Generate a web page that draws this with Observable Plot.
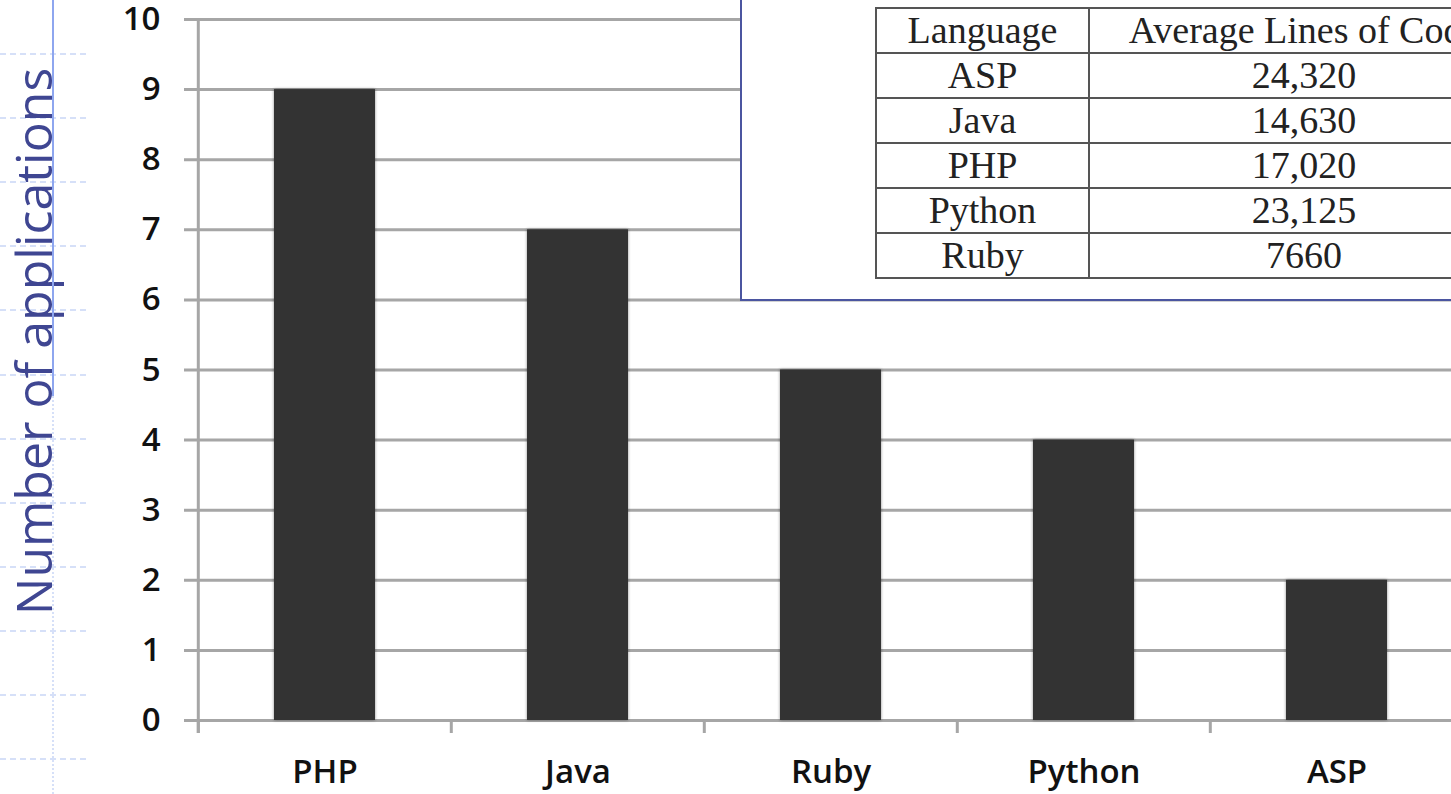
<!DOCTYPE html>
<html>
<head>
<meta charset="utf-8">
<script src="https://cdn.jsdelivr.net/npm/d3@7"></script>
<script src="https://cdn.jsdelivr.net/npm/@observablehq/plot@0.6"></script>
<style>
  html, body { margin: 0; padding: 0; background: #fff; overflow: hidden; }
  #wrap { position: relative; width: 1451px; height: 794px; overflow: hidden; background: #fff; }
  #chart { position: absolute; left: 0; top: 0; z-index: 1; }
  #chart svg { display: block; }
  #chart g[aria-label="bar"] rect { filter: drop-shadow(0 0 1.5px rgba(0,0,0,0.45)); }
  .hdash { position: absolute; left: 0; width: 86px; height: 0; border-top: 2px dashed #d6e0f8; z-index: 0; }
  #vsolid { position: absolute; left: 52px; top: 0; width: 2px; height: 396px; background: #8ea6ef; z-index: 2; }
  #vdot { position: absolute; left: 52px; top: 396px; height: 398px; width: 0; border-left: 2px dotted #d6e0f8; z-index: 0; }
  #inset { position: absolute; left: 740px; top: -3px; width: 800px; height: 304px; background: #fff;
           border: 2px solid #4b55a0; box-sizing: border-box; z-index: 3; }
  #tbl { position: absolute; left: 875px; top: 7px; z-index: 4; border-collapse: collapse; table-layout: fixed; width: 643px;
         font-family: "Liberation Serif", "Times New Roman", serif; font-size: 38px; color: #222; }
  #tbl td { border: 2px solid #555; padding: 0; height: 43px; line-height: 43px; text-align: center; white-space: nowrap; overflow: visible; }
</style>
</head>
<body>
<div id="wrap">
  <div id="chart"></div>
</div>
<script>
// ---- data ----
const languages = ["PHP", "Java", "Ruby", "Python", "ASP"];
const applications = [9, 7, 5, 4, 2];
const yTicks = [0, 1, 2, 3, 4, 5, 6, 7, 8, 9, 10];
const yLabel = "Number of applications";
const tableHeaders = ["Language", "Average Lines of Code"];
const tableLanguages = ["ASP", "Java", "PHP", "Python", "Ruby"];
const tableLines = ["24,320", "14,630", "17,020", "23,125", "7660"];

// ---- chart ----
const data = languages.map((l, i) => ({language: l, count: applications[i]}));
const xRange = [197, 1464];
const step = (xRange[1] - xRange[0]) / languages.length;
const grid = "#a6a6a6";

const chart = Plot.plot({
  width: 1451,
  height: 794,
  marginTop: 19,
  marginBottom: 61,
  marginLeft: 184,
  marginRight: 0,
  style: {fontFamily: "'Open Sans', sans-serif", fontSize: "33px", color: "#111", background: "transparent", overflow: "visible"},
  x: {domain: languages, range: xRange, paddingInner: 0.6, paddingOuter: 0.3, label: null},
  y: {domain: [0, 10], range: [720, 19], label: null},
  marks: [
    Plot.ruleY(yTicks, {y: d => d, stroke: grid, strokeWidth: 3}),
    Plot.ruleX([languages[0]], {x: d => d, dx: -step / 2, stroke: grid, strokeWidth: 3}),
    Plot.ruleX(languages, {x: d => d, dx: -step / 2, insetTop: 701, stroke: grid, strokeWidth: 3}),
    Plot.barY(data, {x: "language", y: "count", fill: "#333333"}),
    Plot.axisY({ticks: yTicks, tickSize: 0, tickPadding: 24, fontWeight: 600, label: null}),
    Plot.axisX({tickSize: 0, tickPadding: 26, fontWeight: 600, label: null}),
    Plot.text([yLabel], {frameAnchor: "left", textAnchor: "middle", rotate: -90, dx: -149, dy: -35, fontSize: 50,
                         fill: "#3f4692", fontWeight: 400, fontFamily: "'Open Sans', sans-serif"})
  ]
});
document.getElementById("chart").appendChild(chart);

// ---- slide decorations ----
const wrap = document.getElementById("wrap");
for (let y = 53; y < 794; y += 64.1) {
  const d = document.createElement("div");
  d.className = "hdash";
  d.style.top = Math.round(y) + "px";
  wrap.appendChild(d);
}
["vsolid", "vdot", "inset"].forEach(id => {
  const d = document.createElement("div");
  d.id = id;
  wrap.appendChild(d);
});

// ---- inset table ----
const tbl = document.createElement("table");
tbl.id = "tbl";
const cg = document.createElement("colgroup");
[213, 430].forEach(w => { const c = document.createElement("col"); c.style.width = w + "px"; cg.appendChild(c); });
tbl.appendChild(cg);
const head = tbl.insertRow();
tableHeaders.forEach(h => { head.insertCell().textContent = h; });
tableLanguages.forEach((l, i) => {
  const r = tbl.insertRow();
  r.insertCell().textContent = l;
  r.insertCell().textContent = tableLines[i];
});
wrap.appendChild(tbl);
</script>
</body>
</html>
